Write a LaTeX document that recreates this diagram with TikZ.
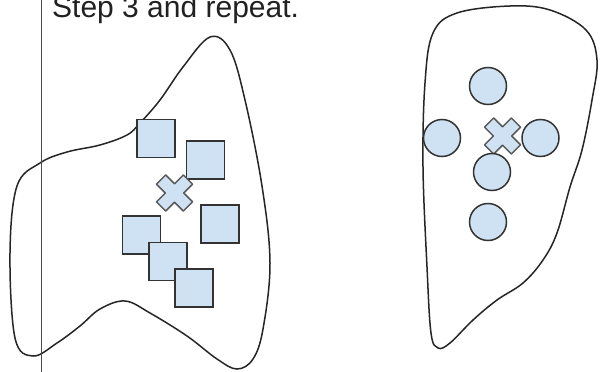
\documentclass[tikz,border=0pt]{standalone}
\usepackage{fontspec}
\setmainfont{Liberation Sans}
\usepackage{tikz}
\usetikzlibrary{positioning}

\definecolor{pointfill}{HTML}{CFE2F3}
\definecolor{pointdraw}{HTML}{333333}
\definecolor{meandraw}{HTML}{5A5A5A}

\tikzset{
	blob/.style={draw=black!85, line width=1.5pt},
	sample/.style={draw=pointdraw, fill=pointfill, line width=1.5pt, minimum size=38pt, inner sep=0pt},
	dot/.style={circle, draw=pointdraw, fill=pointfill, line width=1.5pt, minimum size=37pt, inner sep=0pt},
	centroid/.style={draw=meandraw, fill=pointfill, line width=1.5pt, line join=round}
}

% cross marking a cluster mean
\newcommand{\meanmark}[1]{
	\draw[centroid, shift={(#1)}, rotate=45]
		(-19,-6.5) -- (-6.5,-6.5) -- (-6.5,-19) -- (6.5,-19) -- (6.5,-6.5) -- (19,-6.5)
		-- (19,6.5) -- (6.5,6.5) -- (6.5,19) -- (-6.5,19) -- (-6.5,6.5) -- (-19,6.5) -- cycle;
}

\begin{document}
\begin{tikzpicture}[x=1pt, y=-1pt]
	\useasboundingbox[fill=white] (0,0) rectangle (600,372);

	% caption and divider
	\node[anchor=base west, inner sep=0pt, font=\fontsize{30}{31}\selectfont, text=black!87] (caption) at (52,17) {Step 3 and repeat.};
	\coordinate (divtop) at (41.5,0);
	\coordinate (divbot) at (41.5,372);

	% outlines
	\draw[blob] plot[smooth cycle, tension=0.6] coordinates {
		(210,37) (230,50) (245,100) (262,186) (270,263) (263,329) (253,359) (237,369)
		(217,359) (187,336) (150,313) (125,301) (100,309) (80,326) (57,343) (33,356)
		(15,338) (10,253) (17,186) (40,163) (67,152) (100,145) (127,135) (140,123)
		(160,100) (183,67)};
	\draw[draw=black!70, line width=1.8pt] (divtop) -- (divbot);

	\draw[blob] plot[smooth cycle, tension=0.6] coordinates {
		(510,6) (550,10) (586,30) (597,60) (592,100) (582,150) (570,187) (557,233)
		(543,260) (523,283) (497,300) (473,320) (450,343) (438,348) (431,333)
		(427,267) (423,167) (425,83) (433,33) (457,13)};

	% squares, left cluster
	\node[sample] (s1) at (156,138.5) {};
	\node[sample] (s2) at (205.5,160) {};
	\node[sample] (s3) at (220,224) {};
	\node[sample] (s4) at (141.5,235) {};
	\node[sample] (s5) at (168,261.5) {};
	\node[sample] (s6) at (194,288) {};
	\coordinate (mean1) at (174.5,193);
	\meanmark{mean1}

	% circles, right cluster
	\node[dot] (c1) at (488,86) {};
	\node[dot] (c2) at (442,138) {};
	\node[dot] (c3) at (540.5,138) {};
	\coordinate (mean2) at (502.5,136);
	\meanmark{mean2}
	\node[dot] (c4) at (492,172) {};
	\node[dot] (c5) at (488,222) {};
\end{tikzpicture}
\end{document}
